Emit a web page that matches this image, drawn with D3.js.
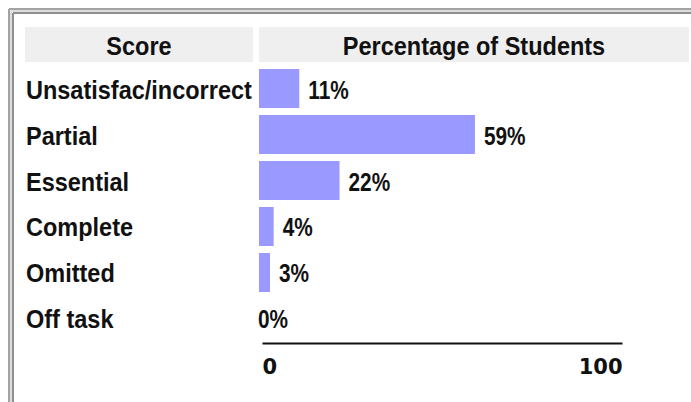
<!DOCTYPE html>
<html>
<head>
<meta charset="utf-8">
<script src="https://cdn.jsdelivr.net/npm/d3@7"></script>
<style>
  body { margin: 0; background: #fff; }
  .lbl { font-family: "Liberation Sans", Arial, sans-serif; font-weight: bold; font-size: 25px; fill: #111; }
  .val { font-family: "Liberation Sans", Arial, sans-serif; font-weight: bold; font-size: 26px; fill: #111; }
  .tick text { font-family: "DejaVu Sans", Verdana, sans-serif; font-weight: bold; font-size: 21px; fill: #111; }
</style>
</head>
<body>
<svg width="691" height="402"></svg>
<script>
// chart data
var scores = ["Unsatisfac/incorrect", "Partial", "Essential", "Complete", "Omitted", "Off task"];
var percents = [11, 59, 22, 4, 3, 0];
var axisTicks = [0, 100];
var headers = ["Score", "Percentage of Students"];

var svg = d3.select("svg");

// text in the original is tall and narrow, so squeeze it sideways
function squeeze(tx, ty, sx) {
    return "translate(" + tx + "," + ty + ") scale(" + sx + ",1)";
}

// page frame (grey double rule, top and left)
var frame = [[9, "#a3a3a3"], [11, "#dcdcdc"], [13, "#8f8f8f"]];
frame.forEach(function (f) {
    svg.append("line").attr("x1", f[0]).attr("y1", f[0]).attr("x2", 691).attr("y2", f[0])
       .attr("stroke", f[1]).attr("stroke-width", 2);
    svg.append("line").attr("x1", f[0]).attr("y1", f[0]).attr("x2", f[0]).attr("y2", 402)
       .attr("stroke", f[1]).attr("stroke-width", 2);
});

// header cells
var headCells = [[25, 253], [259, 689]];
headCells.forEach(function (c, i) {
    svg.append("rect").attr("x", c[0]).attr("y", 27).attr("width", c[1] - c[0]).attr("height", 35)
       .attr("fill", "#efefef");
    svg.append("text").attr("class", "lbl")
       .attr("transform", squeeze((c[0] + c[1]) / 2, 55, 0.94))
       .style("text-anchor", "middle")
       .text(headers[i]);
});

// scales
var x = d3.scaleLinear().domain([0, 100]).range([259, 625]);
var y = d3.scaleBand().domain(scores).range([69, 338]).paddingInner(0.152).paddingOuter(0);

var rows = svg.append("g").selectAll("g")
    .data(scores)
    .enter()
    .append("g");

rows.append("text").attr("class", "lbl")
    .attr("transform", function (d) { return squeeze(26, y(d) + y.bandwidth() / 2 + 10, 0.94); })
    .text(function (d) { return d; });

rows.filter(function (d, i) { return percents[i] > 0; })
    .append("rect")
    .attr("x", x(0))
    .attr("y", function (d) { return y(d); })
    .attr("width", function (d) { return x(percents[scores.indexOf(d)]) - x(0); })
    .attr("height", y.bandwidth())
    .attr("fill", "#9999ff");

rows.append("text").attr("class", "val")
    .attr("transform", function (d, i) {
        var tx = percents[i] > 0 ? x(percents[i]) + 9 : x(0) - 1;
        return squeeze(tx, y(d) + y.bandwidth() / 2 + 10, 0.8);
    })
    .text(function (d, i) { return percents[i] + "%"; });

// axis
var xAxis = d3.scaleLinear().domain([0, 100]).range([262, 622]);
var ax = svg.append("g")
    .attr("transform", "translate(0,343)")
    .call(d3.axisBottom(xAxis).tickValues(axisTicks).tickSize(0).tickSizeOuter(0).tickPadding(16));
ax.select(".domain").attr("stroke", "#111").attr("stroke-width", 2);
ax.selectAll(".tick text")
  .style("text-anchor", function (d, i) { return i === 0 ? "start" : "end"; });
</script>
</body>
</html>
